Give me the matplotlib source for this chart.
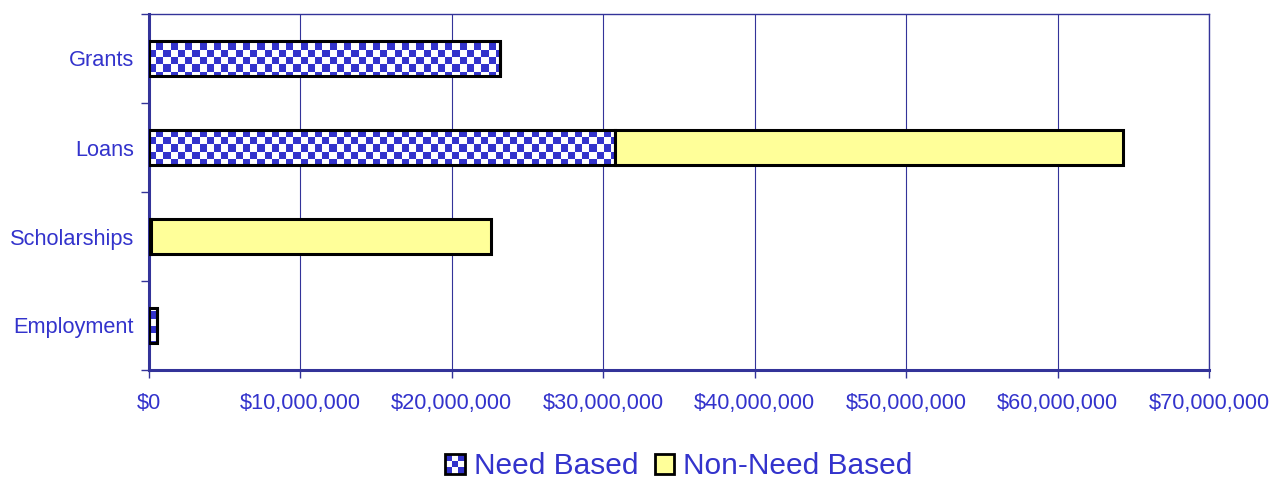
import numpy as np
import matplotlib
matplotlib.use("Agg")
import matplotlib.pyplot as plt
from matplotlib.patches import Rectangle
from matplotlib.legend_handler import HandlerBase
from matplotlib.ticker import FuncFormatter, MultipleLocator
from matplotlib.colors import ListedColormap

categories = ["Grants", "Loans", "Scholarships", "Employment"]
need_based = [23.2e6, 30.8e6, 0.1e6, 0.5e6]
non_need_based = [0.0, 33.5e6, 22.5e6, 0.0]
series_labels = ["Need Based", "Non-Need Based"]

TEXT = "#3333CC"
AXIS = "#333399"
BLUE = "#3333CC"
YELLOW = "#FFFF99"

plt.rcParams['font.family'] = ['Liberation Sans', 'DejaVu Sans']

fig = plt.figure(figsize=(12.72, 4.79), dpi=100)
ax = fig.add_axes([149/1272, 1 - 370/479, (1209-149)/1272, (370-14)/479])

y = np.arange(len(categories))[::-1]
h = 0.4
need_bars = ax.barh(y, need_based, height=h, facecolor='none', edgecolor='black',
                    linewidth=2.2, zorder=3)
ax.barh(y, non_need_based, left=need_based, height=h, facecolor=YELLOW,
        edgecolor='black', linewidth=2.2, zorder=3)

# checkerboard fill for need-based bars
ax_w_px, ax_h_px = 1209 - 149, 370 - 14
cell = 7.2
nc, nr = int(ax_w_px / cell), int(ax_h_px / cell)
board = (np.add.outer(np.arange(nr), np.arange(nc)) % 2).astype(float)
cmap = ListedColormap(['white', BLUE])
for bar in need_bars:
    im = ax.imshow(board, cmap=cmap, extent=[0, 1, 0, 1], transform=ax.transAxes,
                   interpolation='nearest', aspect='auto', zorder=2.5)
    im.set_clip_path(bar)

ax.set_xlim(0, 70e6)
ax.set_ylim(-0.5, len(categories) - 0.5)
ax.set_aspect('auto')
ax.xaxis.set_major_locator(MultipleLocator(10e6))
ax.xaxis.set_major_formatter(FuncFormatter(lambda v, p: "${:,.0f}".format(v)))
ax.set_yticks(y)
ax.set_yticklabels(categories)
ax.set_yticks(np.arange(-0.5, len(categories), 1.0), minor=True)
ax.tick_params(axis='y', which='major', length=0, pad=10.8, labelsize=15.7, labelcolor=TEXT)
ax.tick_params(axis='y', which='minor', length=6, width=1, color=AXIS, direction='out')
ax.tick_params(axis='x', which='major', length=6, width=1, color=AXIS, direction='out',
               pad=10.5, labelsize=15.7, labelcolor=TEXT)
ax.grid(axis='x', color=AXIS, linewidth=0.8, zorder=0)
ax.set_axisbelow(True)
for s in ['left', 'bottom']:
    ax.spines[s].set_color(AXIS)
    ax.spines[s].set_linewidth(2.2)
for s in ['top', 'right']:
    ax.spines[s].set_color(AXIS)
    ax.spines[s].set_linewidth(1.0)


class CheckerHandler(HandlerBase):
    def create_artists(self, legend, orig_handle, xdescent, ydescent, width, height,
                       fontsize, trans):
        s = min(width, height)
        x0 = -xdescent + (width - s) / 2
        y0 = -ydescent + (height - s) / 2
        arts = [Rectangle((x0, y0), s, s, facecolor='white', edgecolor='none', transform=trans)]
        n = 3
        c = s / n
        for i in range(n):
            for j in range(n):
                if (i + j) % 2 == 0:
                    arts.append(Rectangle((x0 + i * c, y0 + j * c), c, c, facecolor=BLUE,
                                          edgecolor='none', transform=trans))
        arts.append(Rectangle((x0, y0), s, s, facecolor='none', edgecolor='black',
                              linewidth=2, transform=trans))
        return arts


class SquareHandler(HandlerBase):
    def create_artists(self, legend, orig_handle, xdescent, ydescent, width, height,
                       fontsize, trans):
        s = min(width, height)
        x0 = -xdescent + (width - s) / 2
        y0 = -ydescent + (height - s) / 2
        return [Rectangle((x0, y0), s, s, facecolor=YELLOW, edgecolor='black',
                          linewidth=2, transform=trans)]


h1 = Rectangle((0, 0), 1, 1)
h2 = Rectangle((0, 0), 1, 1, facecolor=YELLOW)
leg = fig.legend([h1, h2], series_labels, loc='center', bbox_to_anchor=(679/1272, 1 - 466.5/479),
                 ncol=2, frameon=False, fontsize=21.5, handlelength=0.65, handleheight=0.65,
                 handletextpad=0.3, columnspacing=0.55, borderpad=0.2,
                 handler_map={h1: CheckerHandler(), h2: SquareHandler()})
for t in leg.get_texts():
    t.set_color(TEXT)

fig.savefig("out.png", dpi=100)
